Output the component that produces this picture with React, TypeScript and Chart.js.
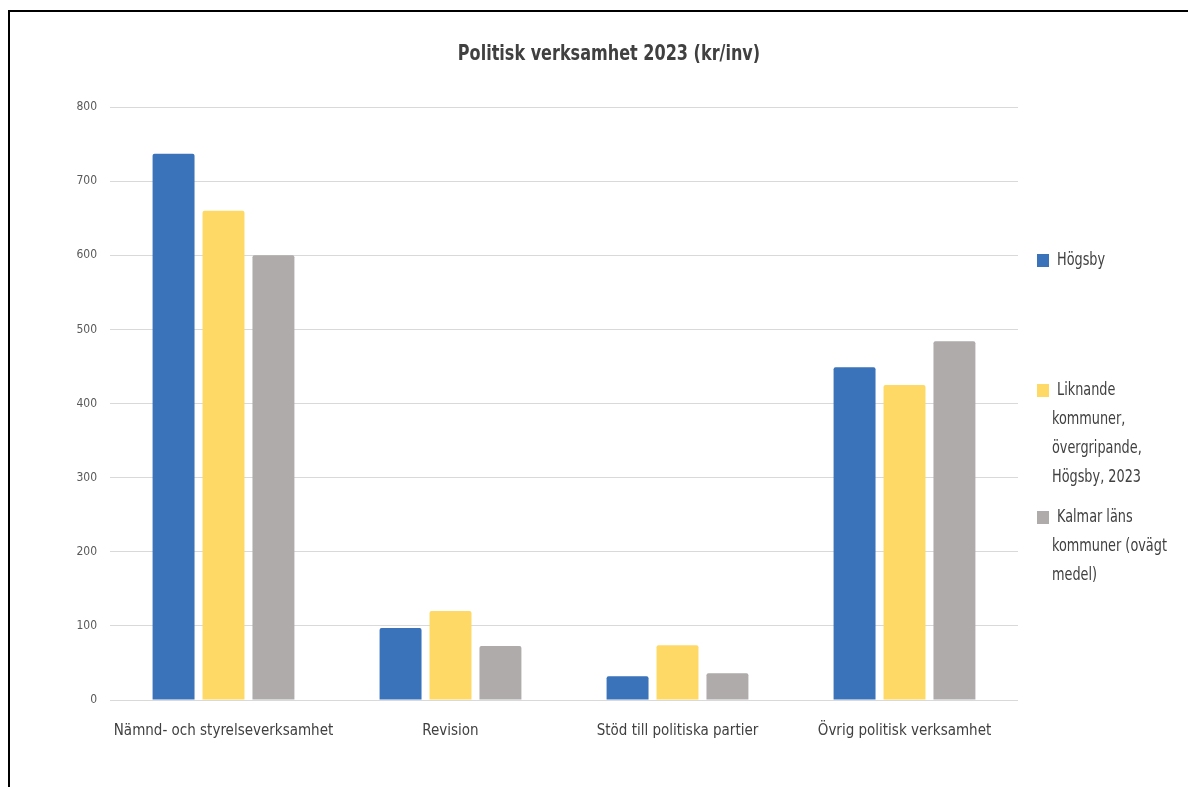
import React, { useEffect, useRef } from "react";
import { Chart, registerables } from "chart.js";

Chart.register(...registerables);

const categories = [
  "Nämnd- och styrelseverksamhet",
  "Revision",
  "Stöd till politiska partier",
  "Övrig politisk verksamhet",
];
const hogsby = [737, 97, 32, 449];
const liknande = [660, 120, 74, 425];
const kalmar = [600, 73, 36, 484];
const seriesNames = ["Högsby", "Liknande kommuner, övergripande, Högsby, 2023", "Kalmar läns kommuner (ovägt medel)"];
const legendLines = [
  ["Högsby"],
  ["Liknande", "kommuner,", "övergripande,", "Högsby, 2023"],
  ["Kalmar läns", "kommuner (ovägt", "medel)"],
];
const titleText = "Politisk verksamhet 2023 (kr/inv)";
const colors = ["#3A73BA", "#FFD966", "#AFABAB"];
const FONT = "'DejaVu Sans Condensed', 'Liberation Sans Narrow', 'Noto Sans', sans-serif";

const decorPlugin = {
  id: "decor",
  afterDraw(chart: any) {
    const ctx = chart.ctx;
    ctx.save();
    // title (horizontally compressed to mimic a narrow face)
    const sx = 0.85;
    ctx.save();
    ctx.scale(sx, 1);
    ctx.fillStyle = "#404040";
    ctx.font = `bold 21px ${FONT}`;
    ctx.textAlign = "center";
    ctx.textBaseline = "middle";
    ctx.fillText(titleText, 599 / sx, 43);
    ctx.restore();
    // legend
    const firstY = [249, 379, 506];
    const lh = 28.7;
    const lx = 0.84;
    legendLines.forEach((lines, i) => {
      const y0 = firstY[i];
      ctx.fillStyle = colors[i];
      ctx.fillRect(1027, y0 - 7, 12, 13);
      ctx.save();
      ctx.scale(lx, 1);
      ctx.font = `17px ${FONT}`;
      ctx.textAlign = "left";
      ctx.textBaseline = "middle";
      ctx.fillStyle = "#404040";
      lines.forEach((ln, j) => {
        ctx.fillText(ln, (j === 0 ? 1047 : 1042) / lx, y0 + j * lh);
      });
      ctx.restore();
    });
    ctx.restore();
  },
};

export default function App() {
  const ref = useRef<HTMLCanvasElement | null>(null);
  useEffect(() => {
    if (!ref.current) return;
    const chart = new Chart(ref.current, {
      type: "bar",
      data: {
        labels: categories,
        datasets: [hogsby, liknande, kalmar].map((d, i) => ({
          label: seriesNames[i],
          data: d,
          backgroundColor: colors[i],
          borderRadius: 2,
          barPercentage: 0.84,
          categoryPercentage: 0.66,
        })),
      },
      options: {
        animation: false,
        responsive: false,
        maintainAspectRatio: false,
        layout: { padding: { top: 95, right: 178, left: 0, bottom: 0 } },
        plugins: {
          legend: { display: false },
          title: { display: false },
          tooltip: { enabled: false },
        },
        scales: {
          x: {
            grid: { display: false, drawTicks: false },
            border: { display: false },
            ticks: {
              color: "#404040",
              font: { family: FONT, size: 15 },
              padding: 22,
              maxRotation: 0,
              autoSkip: false,
            },
            afterFit: (s: any) => {
              s.height = 87;
            },
          },
          y: {
            min: 0,
            max: 800,
            grid: { color: "#D9D9D9", lineWidth: 1, drawTicks: false },
            border: { display: false },
            ticks: {
              stepSize: 100,
              color: "#595959",
              font: { family: FONT, size: 12 },
              padding: 13,
            },
            afterFit: (s: any) => {
              s.width = 100;
            },
          },
        },
      },
      plugins: [decorPlugin],
    });
    return () => chart.destroy();
  }, []);
  return (
    <div
      style={{
        width: 1188,
        height: 777,
        marginTop: 2,
        borderTop: "2px solid #000",
        borderLeft: "2px solid #000",
        boxSizing: "border-box",
        background: "#fff",
      }}
    >
      <canvas ref={ref} width={1186} height={775} style={{ display: "block" }} />
    </div>
  );
}
